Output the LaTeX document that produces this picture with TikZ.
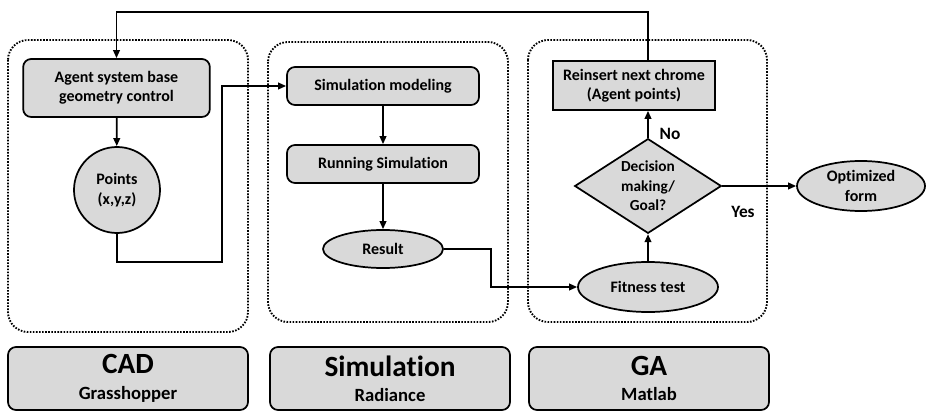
\documentclass[tikz,border=0pt]{standalone}
\usepackage{fontspec}
\setmainfont{Carlito}[Ligatures=NoCommon]
\usetikzlibrary{arrows.meta,shapes.geometric}
\definecolor{boxgray}{HTML}{D9D9D9}
\tikzset{
	groupbox/.style={line width=1.4pt, dash pattern=on 1.2pt off 1.1pt, rounded corners=15pt},
	blockbox/.style={draw, line width=1.3pt, fill=boxgray, rounded corners=6pt, align=center, inner sep=2pt, font=\fontsize{12}{14.5}\selectfont\bfseries},
	ovalbox/.style={draw, ellipse, line width=1.3pt, fill=boxgray, align=center, inner sep=0pt, font=\fontsize{12}{14.5}\selectfont\bfseries},
	choicebox/.style={draw, diamond, line width=1.3pt, fill=boxgray, align=center, inner sep=0pt, shape aspect=1.5, font=\fontsize{11.5}{14.5}\selectfont\bfseries},
	tagbox/.style={draw, line width=1.3pt, fill=boxgray, rounded corners=6pt, align=center, minimum width=180pt, minimum height=47.25pt, font=\fontsize{14}{19}\selectfont\bfseries},
	labeltext/.style={font=\fontsize{13}{15}\selectfont\bfseries, inner sep=0pt},
	flow/.style={line width=1.3pt, -{Triangle[length=6pt,width=5pt]}},
}

\begin{document}
\begin{tikzpicture}[x=0.75pt, y=-0.75pt]
	%%%%% START %%%%%
	\useasboundingbox (0,0) rectangle (927,413);

	% dotted groups
	\draw[groupbox] (8,40) rectangle (248,332);
	\draw[groupbox] (268,42) rectangle (508,322);
	\draw[groupbox] (528,40) rectangle (767,322);

	% CAD part
	\node[blockbox, minimum width=140pt, minimum height=43.5pt] (agent) at (116.5,88) {Agent system base\\geometry control};
	\node[ovalbox, circle, minimum size=64.5pt] (points) at (117,190) {Points\\(x,y,z)};

	% simulation part
	\node[blockbox, minimum width=144pt, minimum height=28.5pt] (simmod) at (383,86) {Simulation modeling};
	\node[blockbox, minimum width=144pt, minimum height=28.5pt] (runsim) at (383,164) {Running Simulation};
	\node[ovalbox, minimum width=90pt, minimum height=28.5pt] (result) at (383,249) {Result};

	% GA part
	\node[ovalbox, minimum width=105pt, minimum height=37.5pt] (fitness) at (648,287) {Fitness test};
	\node[choicebox, minimum width=110pt, minimum height=71pt] (decision) at (648,186) {Decision\\making/\\Goal?};
	\node[blockbox, rounded corners=0pt, minimum width=121.5pt, minimum height=36.75pt] (reinsert) at (634,85.5) {Reinsert next chrome\\(Agent points)};
	\node[ovalbox, minimum width=96pt, minimum height=37.5pt] (optimized) at (861,186) {Optimized\\form};

	\node[labeltext] (lblno) at (670,134) {No};
	\node[labeltext] (lblyes) at (743,212) {Yes};

	% tool boxes
	\node[tagbox] (cad) at (128,378.5) {{\fontsize{22}{22}\selectfont CAD}\\Grasshopper};
	\node[tagbox] (sim) at (390,378.5) {{\fontsize{22}{22}\selectfont Simulation}\\Radiance};
	\node[tagbox] (ga) at (649,378.5) {{\fontsize{22}{22}\selectfont GA}\\Matlab};

	% connectors
	\coordinate (looptop) at (648,12);
	\coordinate (jogcad) at (222,262);
	\coordinate (jogsim) at (491,287);

	\draw[flow] (decision.north |- reinsert.north) -- (looptop) -| (agent.north);
	\draw[flow] (agent) -- (points);
	\draw[flow] (points.south) |- (jogcad) |- (simmod.west);
	\draw[flow] (simmod) -- (runsim);
	\draw[flow] (runsim) -- (result);
	\draw[flow] (result.east) -| (jogsim) -- (fitness.west);
	\draw[flow] (fitness) -- (decision);
	\draw[flow] (decision.north) -- (decision.north |- reinsert.south);
	\draw[flow] (decision) -- (optimized);

	%%%%% END %%%%%
\end{tikzpicture}
\end{document}
